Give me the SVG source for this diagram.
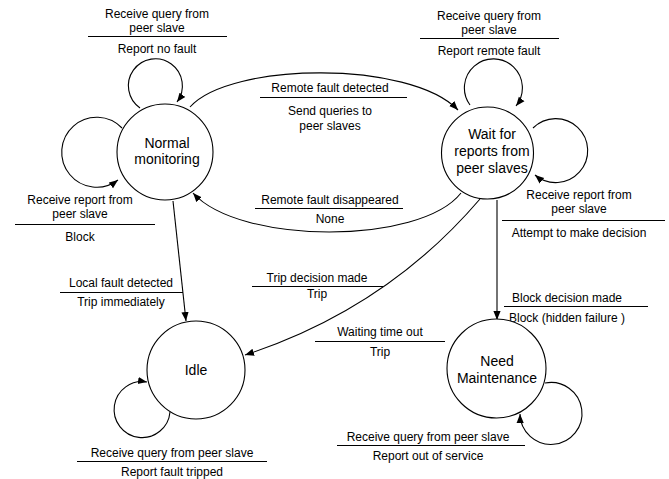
<svg xmlns="http://www.w3.org/2000/svg" width="669" height="479" viewBox="0 0 669 479">
  <style>
    .state { fill: #ffffff; stroke: #000000; stroke-width: 1.1; }
    .edge { fill: none; stroke: #000000; stroke-width: 1.1; marker-end: url(#arrow); }
    .bar { stroke: #000000; stroke-width: 1.2; }
    .node-text { font-family: "Liberation Sans", Arial, sans-serif; font-size: 14px; fill: #000000; text-anchor: middle; }
    .label { font-family: "Liberation Sans", Arial, sans-serif; font-size: 12px; fill: #000000; text-anchor: middle; }
  </style>
  <defs>
    <marker id="arrow" viewBox="0 0 10 10" refX="10" refY="5" markerWidth="9" markerHeight="9" markerUnits="userSpaceOnUse" orient="auto">
      <path d="M0,1 L10,5 L0,9 Z" fill="#000000"/>
    </marker>
  </defs>
  <rect width="669" height="479" fill="#ffffff"/>

  <!-- transitions -->
  <g id="connectors">
    <!-- self loops -->
    <path class="edge" d="M140,108 A27,27 0 1,1 177,102"/>
    <path class="edge" d="M122,128 A35,35 0 1,0 118,180"/>
    <path class="edge" d="M470,105 A29,29 0 1,1 516,106"/>
    <path class="edge" d="M533,128 A32,32 0 1,1 535,175"/>
    <path class="edge" d="M170,412 A28,28 0 1,1 147,382"/>
    <path class="edge" d="M545,383 A31,31 0 1,1 520,414"/>
    <!-- between states -->
    <path class="edge" d="M190,107 C230,62 410,60 458,110"/>
    <path class="edge" d="M461,193 C420,245 240,245 193,193"/>
    <path class="edge" d="M173,201 L186,321"/>
    <path class="edge" d="M497,200 L497,320"/>
    <path class="edge" d="M480,199 Q386,309 245,355"/>
  </g>

  <!-- transition labels: event above the bar, action below -->
  <g id="labels">
    <text class="label" x="157" y="18">Receive query from</text>
    <text class="label" x="157" y="32">peer slave</text>
    <line class="bar" x1="88" y1="36.5" x2="227" y2="36.5"/>
    <text class="label" x="157" y="53">Report no fault</text>

    <text class="label" x="80" y="204">Receive report from</text>
    <text class="label" x="80" y="218">peer slave</text>
    <line class="bar" x1="15" y1="224.5" x2="155" y2="224.5"/>
    <text class="label" x="80" y="241">Block</text>

    <text class="label" x="489" y="20">Receive query from</text>
    <text class="label" x="489" y="34">peer slave</text>
    <line class="bar" x1="420" y1="38.5" x2="559" y2="38.5"/>
    <text class="label" x="489" y="55">Report remote fault</text>

    <text class="label" x="579" y="199">Receive report from</text>
    <text class="label" x="579" y="213">peer slave</text>
    <line class="bar" x1="502" y1="220.5" x2="665" y2="220.5"/>
    <text class="label" x="579" y="237">Attempt to make decision</text>

    <text class="label" x="330" y="92">Remote fault detected</text>
    <line class="bar" x1="260" y1="97.5" x2="407" y2="97.5"/>
    <text class="label" x="330" y="115">Send queries to</text>
    <text class="label" x="330" y="130">peer slaves</text>

    <text class="label" x="330" y="204">Remote fault disappeared</text>
    <line class="bar" x1="255" y1="208.5" x2="403" y2="208.5"/>
    <text class="label" x="330" y="223">None</text>

    <text class="label" x="121" y="287">Local fault detected</text>
    <line class="bar" x1="60" y1="292.5" x2="183" y2="292.5"/>
    <text class="label" x="121" y="306">Trip immediately</text>

    <text class="label" x="317" y="282">Trip decision made</text>
    <line class="bar" x1="252" y1="286.5" x2="383" y2="286.5"/>
    <text class="label" x="317" y="298">Trip</text>

    <text class="label" x="380" y="336">Waiting time out</text>
    <line class="bar" x1="315" y1="341.5" x2="445" y2="341.5"/>
    <text class="label" x="380" y="356">Trip</text>

    <text class="label" x="567" y="302">Block decision made</text>
    <line class="bar" x1="504" y1="306.5" x2="648" y2="306.5"/>
    <text class="label" x="567" y="322">Block  (hidden failure )</text>

    <text class="label" x="172" y="457">Receive query from peer slave</text>
    <line class="bar" x1="77" y1="461.5" x2="267" y2="461.5"/>
    <text class="label" x="172" y="476">Report fault tripped</text>

    <text class="label" x="428" y="441">Receive query from peer slave</text>
    <line class="bar" x1="337" y1="445.5" x2="525" y2="445.5"/>
    <text class="label" x="428" y="460">Report out of service</text>
  </g>

  <!-- states -->
  <g id="normal-monitoring">
    <circle class="state" cx="165" cy="152" r="48"/>
    <text class="node-text" x="167" y="148">Normal</text>
    <text class="node-text" x="167" y="164">monitoring</text>
  </g>
  <g id="wait-for-reports">
    <circle class="state" cx="487.5" cy="153" r="46"/>
    <text class="node-text" x="492" y="139">Wait for</text>
    <text class="node-text" x="492" y="156">reports from</text>
    <text class="node-text" x="492" y="173">peer slaves</text>
  </g>
  <g id="idle">
    <circle class="state" cx="196" cy="370" r="49"/>
    <text class="node-text" x="196" y="375">Idle</text>
  </g>
  <g id="need-maintenance">
    <circle class="state" cx="496.5" cy="368.5" r="49.5"/>
    <text class="node-text" x="497" y="366">Need</text>
    <text class="node-text" x="497" y="383">Maintenance</text>
  </g>
</svg>
